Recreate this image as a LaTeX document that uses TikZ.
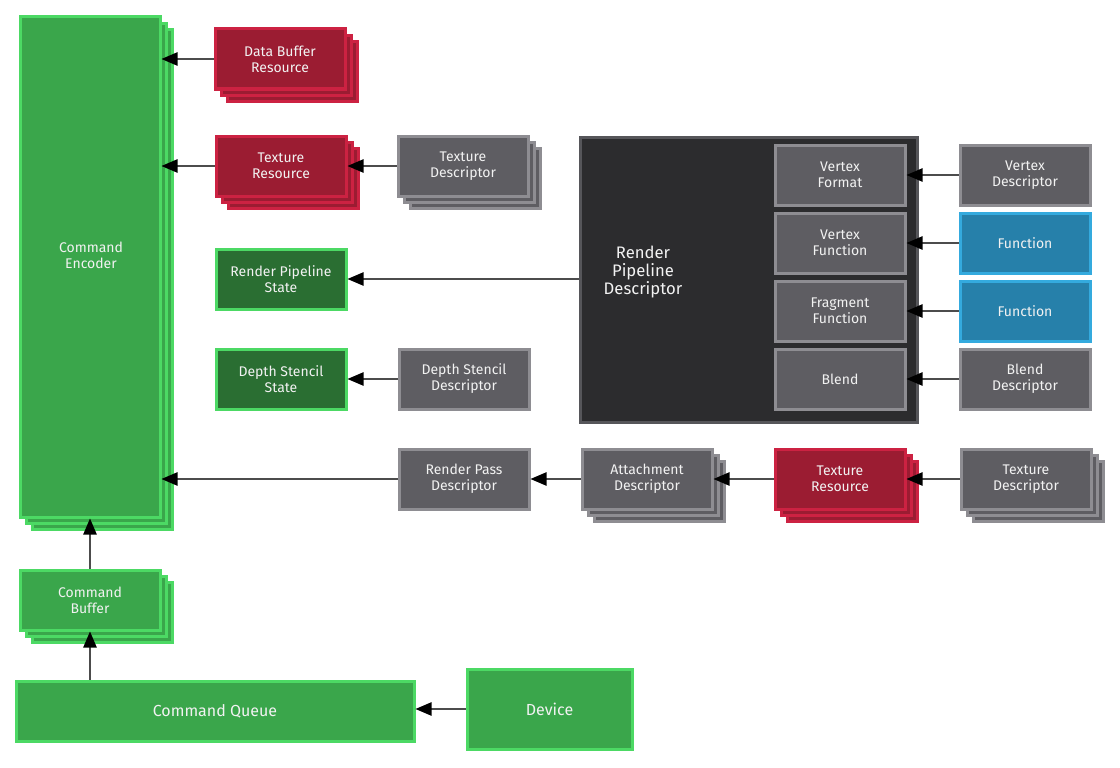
\documentclass[tikz,border=0pt]{standalone}
\usepackage{fontspec}
\setmainfont{Fira Sans}
\usetikzlibrary{shadows,arrows.meta}
\definecolor{gfill}{HTML}{3AA64B}
\definecolor{gline}{HTML}{4CD964}
\definecolor{dgfill}{HTML}{2A6E32}
\definecolor{rfill}{HTML}{9B1C32}
\definecolor{rline}{HTML}{CC2242}
\definecolor{grfill}{HTML}{5E5D62}
\definecolor{grline}{HTML}{8E8D92}
\definecolor{dkfill}{HTML}{2C2C2E}
\definecolor{dkline}{HTML}{56565A}
\definecolor{bfill}{HTML}{2680AA}
\definecolor{bline}{HTML}{34AADE}
\definecolor{txt}{HTML}{F2F2F2}
\tikzset{
  box/.style={rectangle, inner sep=0pt, line width=2.25pt, text=txt, align=center,
    font=\fontsize{10.5}{12}\selectfont},
  greenbox/.style={box, fill=gfill, draw=gline},
  dgreenbox/.style={box, fill=dgfill, draw=gline},
  redbox/.style={box, fill=rfill, draw=rline},
  graybox/.style={box, fill=grfill, draw=grline},
  darkbox/.style={box, fill=dkfill, draw=dkline},
  bluebox/.style={box, fill=bfill, draw=bline},
  stack/.style={double copy shadow={shadow xshift=4.6pt, shadow yshift=-4.6pt}},
  arr/.style={draw=black!70, line width=1pt, -{Triangle[length=12pt,width=10pt,color=black]}},
  lbl/.style={text=txt, align=center, inner sep=0pt}
}
\newcommand\bx[7]{\node[#6, minimum width={(#4-#2)*0.75pt}, minimum height={(#5-#3)*0.75pt}]
  (#1) at ({(#2+#4)/2},{(#3+#5)/2}) {#7};}
\begin{document}
\begin{tikzpicture}[x=0.75pt,y=-0.75pt]
\useasboundingbox (0,0) rectangle (1120,767);
% left column
\bx{ce}{20}{17}{160}{517}{greenbox,stack}{}
\node[lbl, font=\fontsize{10.5}{12}\selectfont] (cetext) at (91,255) {Command\\Encoder};
\bx{cb}{20}{570}{160}{630}{greenbox,stack}{Command\\Buffer}
\bx{cq}{16}{681}{414}{741}{greenbox, font=\fontsize{12}{14}\selectfont}{Command Queue}
\bx{dev}{467}{669}{632}{749}{greenbox, font=\fontsize{12}{14}\selectfont}{Device}
% second column
\bx{dbr}{215}{29}{345}{89}{redbox,stack}{Data Buffer\\Resource}
\bx{tra}{216}{136}{346}{196}{redbox,stack}{Texture\\Resource}
\bx{rps}{216}{249}{346}{309}{dgreenbox}{Render Pipeline\\State}
\bx{dss}{216}{349}{346}{409}{dgreenbox}{Depth Stencil\\State}
% third column
\bx{tda}{398}{136}{528}{196}{graybox,stack}{Texture\\Descriptor}
\bx{dsd}{399}{349}{529}{409}{graybox}{Depth Stencil\\Descriptor}
\bx{rpass}{399}{449}{529}{509}{graybox}{Render Pass\\Descriptor}
% render pipeline descriptor
\bx{rpd}{580}{137}{917}{422}{darkbox}{}
\node[lbl, font=\fontsize{12.5}{13.5}\selectfont] (rpdtext) at (643,272) {Render\\Pipeline\\Descriptor};
\bx{vf}{775}{145}{905}{205}{graybox}{Vertex\\Format}
\bx{vfn}{775}{213}{905}{273}{graybox}{Vertex\\Function}
\bx{ffn}{775}{281}{905}{341}{graybox}{Fragment\\Function}
\bx{bl}{775}{349}{905}{409}{graybox}{Blend}
\bx{vd}{960}{145}{1090}{205}{graybox}{Vertex\\Descriptor}
\bx{fa}{960}{213}{1090}{273}{bluebox}{Function}
\bx{fb}{960}{281}{1090}{341}{bluebox}{Function}
\bx{bd}{960}{349}{1090}{409}{graybox}{Blend\\Descriptor}
% bottom row
\bx{ad}{582}{449}{712}{509}{graybox,stack}{Attachment\\Descriptor}
\bx{trb}{775}{449}{905}{509}{redbox,stack}{Texture\\Resource}
\bx{tdb}{961}{449}{1091}{509}{graybox,stack}{Texture\\Descriptor}
% connectors
\draw[arr] (dbr.west) -- (dbr.west -| ce.east);
\draw[arr] (tra.west) -- (tra.west -| ce.east);
\draw[arr] (tda.west) -- (tra.east);
\draw[arr] (rpd.west |- rps.east) -- (rps.east);
\draw[arr] (dsd.west) -- (dss.east);
\draw[arr] (rpass.west) -- (rpass.west -| ce.east);
\draw[arr] (ad.west) -- (rpass.east);
\draw[arr] (trb.west) -- (ad.east);
\draw[arr] (tdb.west) -- (trb.east);
\draw[arr] (vd.west) -- (vf.east);
\draw[arr] (fa.west) -- (vfn.east);
\draw[arr] (fb.west) -- (ffn.east);
\draw[arr] (bd.west) -- (bl.east);
\draw[arr] (cb.north) -- (cb.north |- ce.south);
\draw[arr] (cq.north -| cb.north) -- (cb.south);
\draw[arr] (dev.west) -- (dev.west -| cq.east);
\end{tikzpicture}
\end{document}
